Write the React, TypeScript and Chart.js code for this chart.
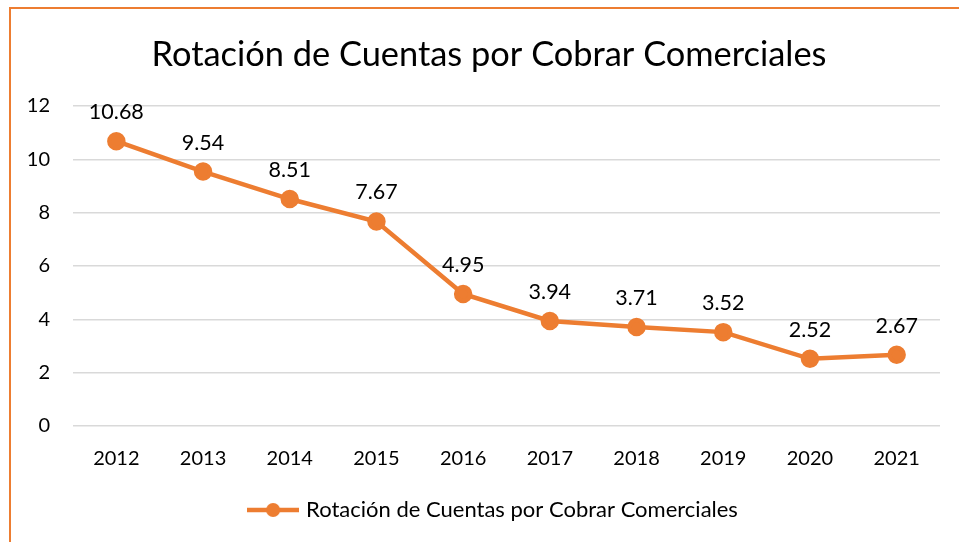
import React, { useEffect, useRef } from "react";
import { Chart, registerables } from "chart.js";

Chart.register(...registerables);

const years = ["2012", "2013", "2014", "2015", "2016", "2017", "2018", "2019", "2020", "2021"];
const rotacion = [10.68, 9.54, 8.51, 7.67, 4.95, 3.94, 3.71, 3.52, 2.52, 2.67];
const seriesName = "Rotación de Cuentas por Cobrar Comerciales";
const chartTitle = "Rotación de Cuentas por Cobrar Comerciales";

const ORANGE = "#ED7D31";
const FONT = "Lato, 'Open Sans', sans-serif";

const dataLabels = {
  id: "dataLabels",
  afterDatasetsDraw(chart: any) {
    const ctx = chart.ctx;
    const meta = chart.getDatasetMeta(0);
    const ds = chart.data.datasets[0];
    ctx.save();
    ctx.font = `21.5px ${FONT}`;
    ctx.fillStyle = "#000";
    ctx.textAlign = "center";
    ctx.textBaseline = "middle";
    meta.data.forEach((pt: any, i: number) => {
      ctx.fillText(Number(ds.data[i]).toFixed(2), pt.x, pt.y - 29);
    });
    ctx.restore();
  },
};

// Centre title and legend over the whole frame rather than the padded box
const shiftBlocks = {
  id: "shiftBlocks",
  afterLayout(chart: any) {
    if (chart.titleBlock) chart.titleBlock.left += 38;
    if (chart.legend) chart.legend.left += 49;
  },
};

export default function App() {
  const ref = useRef<HTMLCanvasElement | null>(null);
  useEffect(() => {
    if (!ref.current) return;
    const marker = document.createElement("canvas");
    marker.width = 52;
    marker.height = 16;
    const mc = marker.getContext("2d")!;
    mc.strokeStyle = ORANGE;
    mc.lineWidth = 4.5;
    mc.beginPath();
    mc.moveTo(0, 8);
    mc.lineTo(52, 8);
    mc.stroke();
    mc.fillStyle = ORANGE;
    mc.beginPath();
    mc.arc(26, 8, 7, 0, Math.PI * 2);
    mc.fill();

    const chart = new Chart(ref.current, {
      type: "line",
      data: {
        labels: years,
        datasets: [
          {
            label: seriesName,
            data: rotacion,
            borderColor: ORANGE,
            backgroundColor: ORANGE,
            borderWidth: 4.5,
            pointRadius: 7,
            pointHoverRadius: 7,
            pointBackgroundColor: ORANGE,
            pointBorderColor: ORANGE,
            tension: 0,
          },
        ],
      },
      options: {
        responsive: false,
        animation: false,
        layout: { padding: { left: 0, right: 19, top: 0, bottom: 11 } },
        plugins: {
          title: {
            display: true,
            text: chartTitle,
            color: "#000",
            font: { family: FONT, size: 34.4, weight: "normal" },
            padding: { top: 34.4, bottom: 30.3 },
          },
          legend: {
            display: true,
            position: "bottom",
            labels: {
              usePointStyle: true,
              pointStyle: marker as any,
              pointStyleWidth: 44,
              color: "#000",
              font: { family: FONT, size: 22 },
              padding: 12,
            },
          },
          tooltip: { enabled: false },
        },
        scales: {
          x: {
            offset: true,
            grid: { display: false, drawTicks: false },
            border: { display: false },
            ticks: { color: "#000", font: { family: FONT, size: 20 }, padding: 21 },
            afterFit: (s: any) => {
              s.height = 61;
            },
          },
          y: {
            min: 0,
            max: 12,
            ticks: { stepSize: 2, color: "#000", font: { family: FONT, size: 20 }, padding: 23 },
            grid: { color: "#D9D9D9", lineWidth: 1.5, drawTicks: false },
            border: { display: false },
            afterFit: (s: any) => {
              s.width = 73;
            },
          },
        },
      },
      plugins: [dataLabels, shiftBlocks],
    });
    return () => chart.destroy();
  }, []);

  return (
    <div style={{ position: "absolute", left: 0, top: 0, width: 959, height: 542, background: "#fff", overflow: "hidden" }}>
      <canvas ref={ref} width={959} height={542} style={{ position: "absolute", left: 0, top: 0 }} />
      <div
        style={{
          position: "absolute",
          left: 9,
          top: 7,
          width: 980,
          height: 560,
          border: `2.5px solid ${ORANGE}`,
          boxSizing: "border-box",
          pointerEvents: "none",
        }}
      />
    </div>
  );
}
